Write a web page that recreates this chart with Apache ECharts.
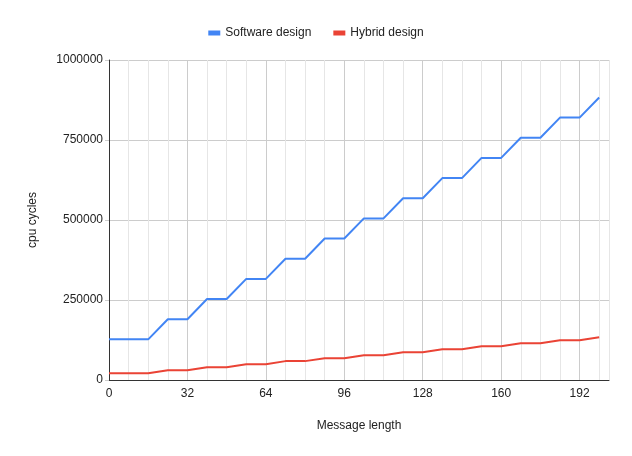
<!DOCTYPE html>
<html>
<head>
<meta charset="utf-8">
<script src="https://cdn.jsdelivr.net/npm/echarts@6/dist/echarts.min.js"></script>
<style>
html,body{margin:0;padding:0;background:#fff;}
#chart{width:632px;height:456px;}
</style>
</head>
<body>
<div id="chart"></div>
<script>
const messageLength = [0, 8, 16, 24, 32, 40, 48, 56, 64, 72, 80, 88, 96, 104, 112, 120, 128, 136, 144, 152, 160, 168, 176, 184, 192, 200];
const softwareDesign = [127000, 127000, 127000, 190000, 190000, 253000, 253000, 316000, 316000, 379000, 379000, 442000, 442000, 505000, 505000, 568000, 568000, 631000, 631000, 694000, 694000, 757000, 757000, 820000, 820000, 883000];
const hybridDesign = [21000, 21000, 21000, 30500, 30500, 40000, 40000, 49500, 49500, 59000, 59000, 68000, 68000, 77500, 77500, 87000, 87000, 96000, 96000, 105500, 105500, 115000, 115000, 124000, 124000, 133500];
const yTicks = [0, 250000, 500000, 750000, 1000000];
const seriesNames = ['Software design', 'Hybrid design'];

const chart = echarts.init(document.getElementById('chart'), null, {renderer: 'canvas'});
const font = 'Liberation Sans, Arial, sans-serif';
chart.setOption({
  animation: false,
  textStyle: {fontFamily: font},
  color: ['#4285F4', '#EA4335'],
  legend: {
    top: 22,
    left: 'center',
    itemWidth: 12,
    itemHeight: 5,
    itemGap: 22,
    icon: 'rect',
    textStyle: {fontFamily: font, fontSize: 12, color: '#222'},
    data: seriesNames
  },
  grid: {left: 109, right: 23, top: 60, bottom: 76, containLabel: false},
  xAxis: {
    type: 'value',
    min: 0,
    max: 204,
    interval: 8,
    name: 'Message length',
    nameLocation: 'middle',
    nameGap: 40,
    nameTextStyle: {fontFamily: font, fontSize: 12, color: '#222'},
    axisLine: {show: true, lineStyle: {color: '#333', width: 1}},
    axisTick: {show: false},
    axisLabel: {
      fontFamily: font, fontSize: 12, color: '#222', margin: 8,
      showMaxLabel: false,
      formatter: v => (v % 32 === 0 ? String(v) : '')
    },
    splitLine: {show: true, lineStyle: {color: ['#cccccc', '#e6e6e6', '#e6e6e6', '#e6e6e6'], width: 1}}
  },
  yAxis: {
    type: 'value',
    min: yTicks[0],
    max: yTicks[yTicks.length - 1],
    interval: yTicks[1] - yTicks[0],
    name: 'cpu cycles',
    nameLocation: 'middle',
    nameGap: 70,
    nameTextStyle: {fontFamily: font, fontSize: 12, color: '#222'},
    axisLine: {show: true, lineStyle: {color: '#333', width: 1}},
    axisTick: {show: true, length: 4, lineStyle: {color: '#cccccc'}},
    axisLabel: {fontFamily: font, fontSize: 12, color: '#222', margin: 6, formatter: v => String(v)},
    splitLine: {show: true, lineStyle: {color: '#cccccc', width: 1}}
  },
  series: [
    {
      name: seriesNames[0],
      type: 'line',
      symbol: 'none',
      lineStyle: {width: 2},
      data: messageLength.map((x, i) => [x, softwareDesign[i]])
    },
    {
      name: seriesNames[1],
      type: 'line',
      symbol: 'none',
      lineStyle: {width: 2},
      data: messageLength.map((x, i) => [x, hybridDesign[i]])
    }
  ]
});
</script>
</body>
</html>
